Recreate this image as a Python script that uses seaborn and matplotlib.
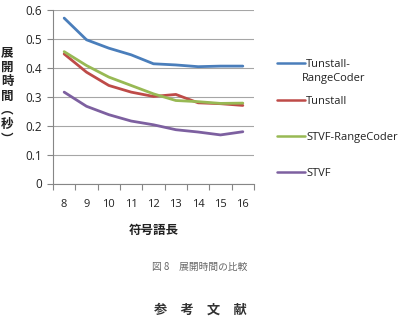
import matplotlib
matplotlib.use("Agg")
import matplotlib.pyplot as plt
import seaborn as sns
import pandas as pd
from matplotlib.ticker import FixedLocator, NullFormatter

sns.set_theme(style="white")
plt.rcParams['font.family'] = ['Open Sans', 'Noto Sans CJK JP', 'DejaVu Sans']

code_len = [8, 9, 10, 11, 12, 13, 14, 15, 16]
tunstall_rc = [0.572, 0.497, 0.468, 0.445, 0.414, 0.410, 0.404, 0.406, 0.406]
tunstall = [0.448, 0.385, 0.339, 0.316, 0.301, 0.308, 0.279, 0.276, 0.270]
stvf_rc = [0.456, 0.408, 0.368, 0.339, 0.310, 0.287, 0.283, 0.277, 0.278]
stvf = [0.316, 0.267, 0.238, 0.216, 0.203, 0.186, 0.178, 0.168, 0.179]
series_names = ["Tunstall-RangeCoder", "Tunstall", "STVF-RangeCoder", "STVF"]
legend_labels = ["Tunstall-", "Tunstall", "STVF-RangeCoder", "STVF"]
legend_label_cont = "RangeCoder"
colors = ["#4a7ebb", "#be4b48", "#98b954", "#7d60a0"]
yticks = [0, 0.1, 0.2, 0.3, 0.4, 0.5, 0.6]

rows = []
for name, vals in zip(series_names, [tunstall_rc, tunstall, stvf_rc, stvf]):
    for x, v in zip(code_len, vals):
        rows.append({"len": x, "time": v, "series": name})
df = pd.DataFrame(rows)

fig = plt.figure(figsize=(4.07, 3.16), dpi=100)
ax = fig.add_axes([53/407, 1 - 183.5/316, 201/407, 173.5/316])

sns.lineplot(data=df, x="len", y="time", hue="series", hue_order=series_names,
             palette=colors, linewidth=2.0, ax=ax, legend=True)

ax.set_xlim(7.5, 16.5)
ax.set_ylim(0, 0.6)
ax.set_yticks(yticks)
ax.set_yticklabels(["0" if t == 0 else f"{t:.1f}" for t in yticks])
ax.set_xticks(code_len)
ax.set_xticklabels([str(c) for c in code_len])
ax.xaxis.set_minor_locator(FixedLocator([c - 0.5 for c in code_len] + [16.5]))
ax.xaxis.set_minor_formatter(NullFormatter())
ax.tick_params(axis='x', which='major', length=0, pad=11, labelsize=8, colors='#222222')
ax.tick_params(axis='x', which='minor', length=4, width=0.8, color='#868686', direction='out', bottom=True)
ax.tick_params(axis='y', length=4, width=0.8, color='#868686', direction='out', left=True, labelsize=8.5, labelcolor='#222222', pad=4)

ax.grid(axis='y', color='#a6a6a6', linewidth=0.8)
ax.grid(axis='x', visible=False)
for s in ['top', 'right']:
    ax.spines[s].set_visible(False)
for s in ['left', 'bottom']:
    ax.spines[s].set_color('#868686')
    ax.spines[s].set_linewidth(0.8)

ax.set_xlabel("符号語長", fontsize=9, fontweight='bold', family=['Noto Sans CJK JP'], labelpad=10, color='#222222')
ax.set_ylabel("")
fig.text(7/407, 1 - 96/316, "展\n開\n時\n間\n︵\n秒\n︶", fontsize=9, fontweight='bold',
         family=['Noto Sans CJK JP'], ha='center', va='center', linespacing=1.13, color='#222222')

handles, _ = ax.get_legend_handles_labels()
leg = ax.legend(handles, legend_labels, loc='upper left',
                bbox_to_anchor=(268/407, 1 - 50.5/316), bbox_transform=fig.transFigure,
                frameon=False, fontsize=8, handlelength=2.5, handletextpad=0.15,
                labelspacing=2.28, borderpad=0.3)
for line in leg.get_lines():
    line.set_linewidth(1.8)
fig.text(302/407, 1 - 78.5/316, legend_label_cont, fontsize=8, color='#222222',
         ha='left', va='center')
for t in leg.get_texts():
    t.set_color('#222222')

fig.text(200/407, 1 - 266.5/316, "図 8　展開時間の比較", fontsize=7, color='#666666',
         family=['Noto Sans CJK JP'], ha='center', va='center')
fig.text(200/407, 1 - 310/316, "参　考　文　献", fontsize=9.5, color='#333333', fontweight='bold',
         family=['Noto Sans CJK JP'], ha='center', va='center')

fig.savefig("out.png", dpi=100)
